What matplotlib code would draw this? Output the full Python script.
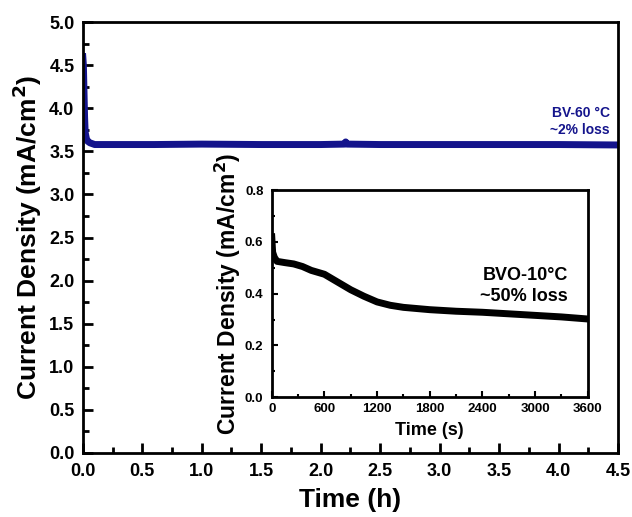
import matplotlib.pyplot as plt
from matplotlib.ticker import MultipleLocator

plt.rcParams['font.family'] = ['Liberation Sans', 'DejaVu Sans']
plt.rcParams['font.weight'] = 'bold'

# main stability curve, BV-60 C (time in h, current in mA/cm2)
t_main = [0.0, 0.005, 0.01, 0.015, 0.02, 0.03, 0.04, 0.06, 0.1, 0.3, 0.6, 1.0, 1.5, 2.0,
          2.2, 2.21, 2.22, 2.5, 3.0, 3.5, 4.0, 4.5]
j_main = [4.6, 4.5, 4.2, 3.9, 3.72, 3.65, 3.62, 3.6, 3.58, 3.58, 3.58, 3.585, 3.58, 3.58,
          3.585, 3.61, 3.585, 3.58, 3.58, 3.58, 3.58, 3.575]

# inset curve, BVO-10 C (time in s)
t_ins = [0, 10, 30, 60, 150, 250, 350, 450, 600, 750, 900, 1050, 1200, 1350, 1500,
         1800, 2100, 2400, 2700, 3000, 3300, 3600]
j_ins = [0.62, 0.56, 0.54, 0.525, 0.52, 0.515, 0.505, 0.49, 0.475, 0.445, 0.415, 0.39,
         0.368, 0.355, 0.347, 0.338, 0.332, 0.328, 0.322, 0.316, 0.31, 0.302]

fig = plt.figure(figsize=(6.32, 5.17), dpi=100)
ax = fig.add_axes([0.131, 0.124, 0.847, 0.833])
ax.plot(t_main, j_main, color='#14148c', lw=5)
ax.set_xlim(0, 4.5)
ax.set_ylim(0, 5.0)
ax.xaxis.set_major_locator(MultipleLocator(0.5))
ax.xaxis.set_minor_locator(MultipleLocator(0.25))
ax.yaxis.set_major_locator(MultipleLocator(0.5))
ax.yaxis.set_minor_locator(MultipleLocator(0.25))
ax.tick_params(which='both', direction='in', width=2, labelsize=13)
ax.tick_params(which='major', length=7)
ax.tick_params(which='minor', length=4)
ax.tick_params(axis='x', pad=7)
ax.tick_params(axis='y', pad=6)
for s in ax.spines.values():
    s.set_linewidth(2)
ax.set_xlabel('Time (h)', fontsize=19, fontweight='bold', labelpad=6)
ax.set_ylabel('Current Density (mA/cm$^\\mathbf{2}$)', fontsize=19, fontweight='bold', labelpad=4)
ax.text(4.43, 3.85, 'BV-60 \u00b0C\n~2% loss', color='#14148c', fontsize=10,
        fontweight='bold', ha='right', va='center', linespacing=1.25)

ins = fig.add_axes([0.430, 0.232, 0.5, 0.400])
ins.plot(t_ins, j_ins, color='black', lw=5)
ins.set_xlim(0, 3600)
ins.set_ylim(0, 0.8)
ins.xaxis.set_major_locator(MultipleLocator(600))
ins.xaxis.set_minor_locator(MultipleLocator(300))
ins.yaxis.set_major_locator(MultipleLocator(0.2))
ins.yaxis.set_minor_locator(MultipleLocator(0.1))
ins.tick_params(which='both', direction='in', width=1.5, labelsize=9.5, pad=4)
ins.tick_params(axis='y', pad=6)
ins.tick_params(which='major', length=4)
ins.tick_params(which='minor', length=2.5)
for s in ins.spines.values():
    s.set_linewidth(2)
ins.set_xlabel('Time (s)', fontsize=13, fontweight='bold', labelpad=5)
ins.set_ylabel('Current Density (mA/cm$^\\mathbf{2}$)', fontsize=16.5, fontweight='bold', labelpad=1)
ins.text(3372, 0.43, 'BVO-10\u00b0C\n~50% loss', fontsize=13, fontweight='bold',
         ha='right', va='center', linespacing=1.25)

plt.savefig('out.png', dpi=100)
